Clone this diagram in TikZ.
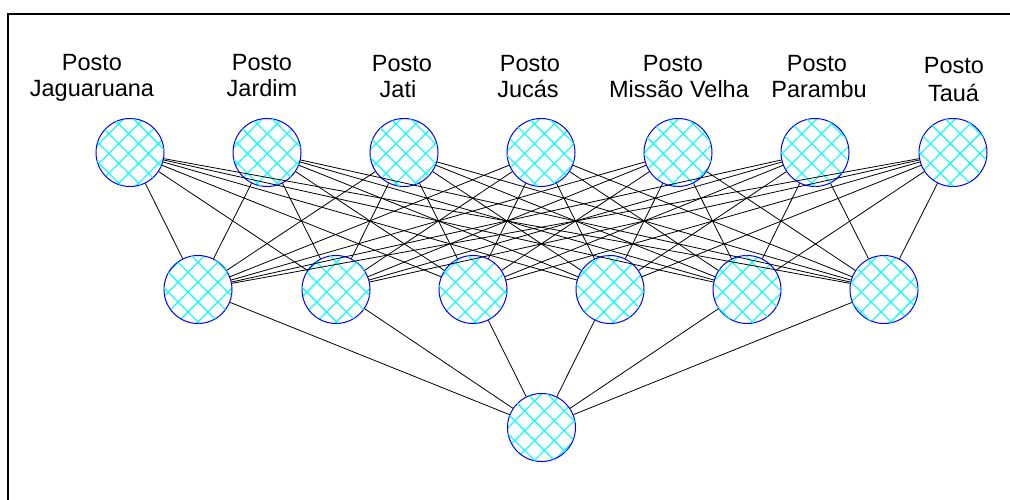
\documentclass[tikz,border=0pt]{standalone}
\usepackage{fontspec}
\setmainfont{Liberation Sans}
\usetikzlibrary{patterns.meta}
\begin{document}
\begin{tikzpicture}[x=1pt,y=-1pt,
  neuron/.style={circle,draw=blue,line width=1pt,minimum size=68pt,inner sep=0pt,
    preaction={fill=white},
    pattern={Lines[angle=45,distance=14pt,line width=1.1pt]},pattern color=cyan,
    postaction={pattern={Lines[angle=-45,distance=14pt,line width=1.1pt]},pattern color=cyan}},
  lbl/.style={anchor=base,inner sep=0pt,font=\fontsize{23.5}{26}\selectfont},
  conn/.style={draw=black,line width=0.8pt}]
\useasboundingbox (0,0) rectangle (1010,500);
\draw[line width=2pt] (8,500) -- (8,14) -- (1010,14);
% labels
\node[lbl] (l1a) at (92,71) {Posto};
\node[lbl] (l1b) at (92,97) {Jaguaruana};
\node[lbl] (l2a) at (262,71) {Posto};
\node[lbl] (l2b) at (262,97) {Jardim};
\node[lbl] (l3a) at (402,71.5) {Posto};
\node[lbl] (l3b) at (398,97.3) {Jati};
\node[lbl] (l4a) at (530,71.5) {Posto};
\node[lbl] (l4b) at (528,97.3) {Jucás};
\node[lbl] (l5a) at (673,71.5) {Posto};
\node[lbl] (l5b) at (679,97.3) {Missão Velha};
\node[lbl] (l6a) at (817,72) {Posto};
\node[lbl] (l6b) at (819,98) {Parambu};
\node[lbl] (l7a) at (954,73.5) {Posto};
\node[lbl] (l7b) at (953.5,101.5) {Tauá};
% nodes
\foreach \i/\x in {1/130,2/267,3/404,4/541,5/678,6/815,7/953}
  \node[neuron] (t\i) at (\x,152.5) {};
\foreach \j/\x in {1/198,2/336,3/473,4/610,5/747,6/884}
  \node[neuron] (m\j) at (\x,289.5) {};
\node[neuron] (o) at (541.5,427.5) {};
% connectors
\foreach \i in {1,...,7}
  \foreach \j in {1,...,6}
    \draw[conn] (t\i) -- (m\j);
\foreach \j in {1,...,6}
  \draw[conn] (m\j) -- (o);
\end{tikzpicture}
\end{document}
